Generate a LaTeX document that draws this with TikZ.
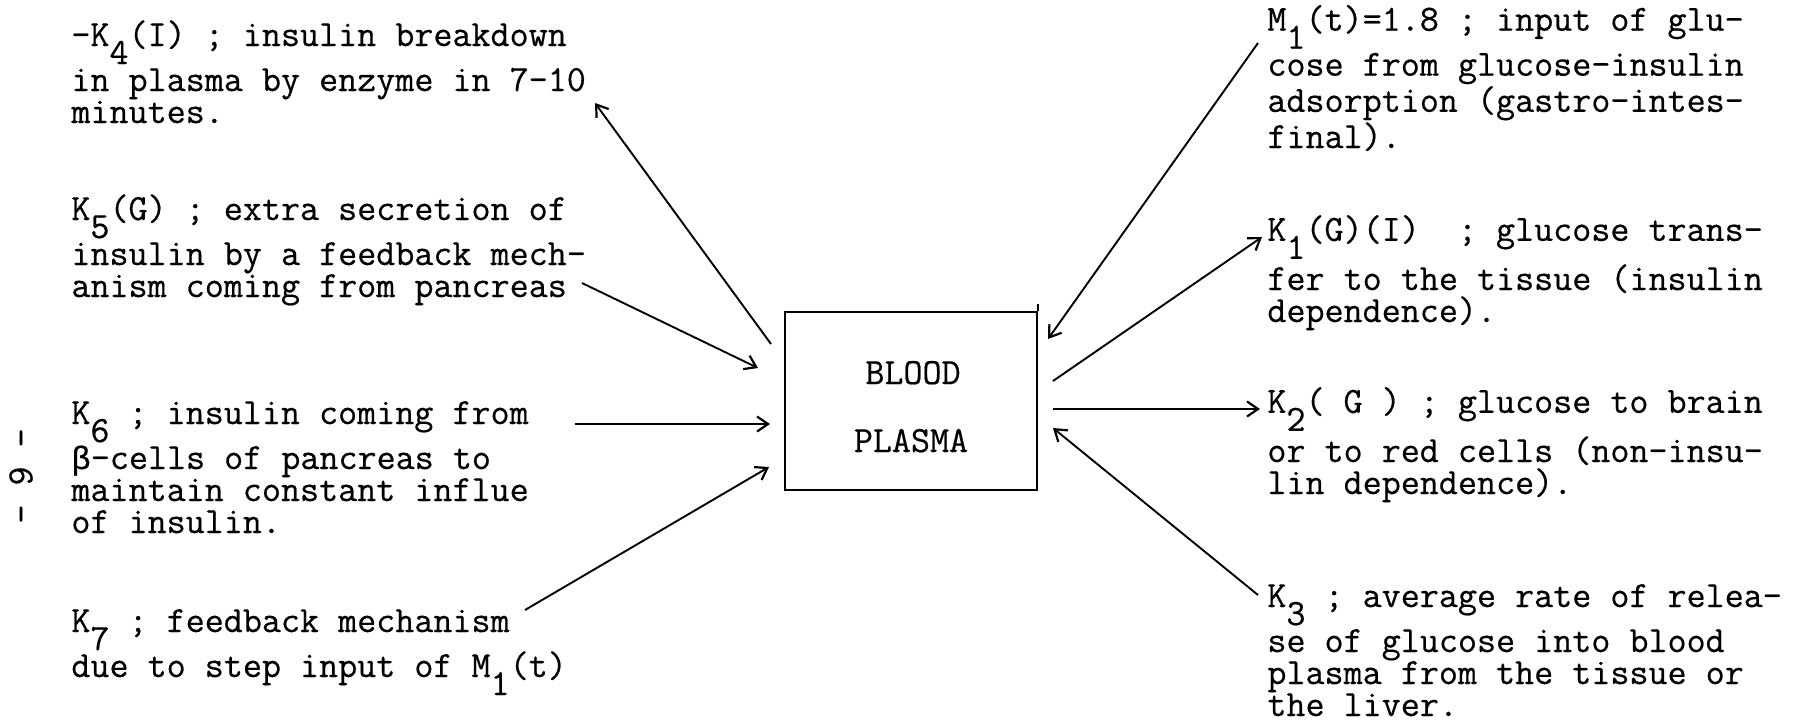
\documentclass[tikz,border=0pt]{standalone}
\usepackage{fontspec}
\setmonofont[FakeBold=0.5]{Latin Modern Mono}
\newfontfamily\grk[Scale=0.875,FakeBold=0.5]{Liberation Mono}
\usetikzlibrary{arrows.meta,calc}
\newcommand\dn[1]{\smash{\raisebox{-9pt}{#1}}}
\tikzset{
  txt/.style={anchor=base west, align=left, inner sep=0pt,
    font=\fontsize{18.5}{16}\selectfont\ttfamily},
  arr/.style={line width=0.95pt, -{Straight Barb[length=5.5pt,width=7.5pt,line width=1.1pt]}},
  boxstyle/.style={draw, line width=1pt, minimum width=126pt, minimum height=89pt, inner sep=0pt},
  boxtxt/.style={anchor=base, inner sep=0pt, font=\fontsize{18.5}{16}\selectfont\ttfamily},
}
\begin{document}
\begin{tikzpicture}[x=0.5pt,y=-0.5pt]
\useasboundingbox (0,0) rectangle (1795,724);

% central box
\node[boxstyle] (box) at (911,401) {};
\draw[line width=1pt] (box.north east) -- ++(0,-7);
\node[boxtxt] (blood) at (913,384) {BLOOD};
\node[boxtxt] (plasma) at (911,452) {PLASMA};

% left texts (anchored at the baseline of their last line)
\node[txt] (k4) at (71,123) {-K\dn{4}(I) ; insulin breakdown\\[6.5pt]in plasma by enzyme in 7-10\\minutes.};
\node[txt] (k5) at (71,297) {K\dn{5}(G) ; extra secretion of\\[6.5pt]insulin by a feedback mech-\\anism coming from pancreas};
\node[txt] (k6) at (71,533) {K\dn{6} ; insulin coming from\\[6.5pt]{\grk β}-cells of pancreas to\\maintain constant influe\\of insulin.};
\node[txt] (k7) at (71,677) {K\dn{7} ; feedback mechanism\\[6.5pt]due to step input of M\dn{1}(t)};

% right texts
\node[txt] (m1) at (1267,148) {M\dn{1}(t)=1.8 ; input of glu-\\[6.5pt]cose from glucose-insulin\\adsorption (gastro-intes-\\final).};
\node[txt] (k1) at (1267,322) {K\dn{1}(G)(I)~~; glucose trans-\\[6.5pt]fer to the tissue (insulin\\dependence).};
\node[txt] (k2) at (1267,494) {K\dn{2}( G ) ; glucose to brain\\[6.5pt]or to red cells (non-insu-\\lin dependence).};
\node[txt] (k3) at (1267,716) {K\dn{3} ; average rate of relea-\\[6.5pt]se of glucose into blood\\plasma from the tissue or\\the liver.};

% page number
\node[rotate=-90, inner sep=0pt, font=\fontsize{18.5}{16}\selectfont\ttfamily] (pg) at (21,476) {- 6 -};

% connector ends
\coordinate (k4a) at (595,103);
\coordinate (k5a) at (582,283);
\coordinate (k6a) at (575,424);
\coordinate (k7a) at (525,610);
\coordinate (m1a) at (1258,43);
\coordinate (k1a) at (1262,237);
\coordinate (k2a) at (1260,409);
\coordinate (k3a) at (1258,595);

\coordinate (b4) at ($(box.north west)+(-13,33)$);
\coordinate (b5) at ($(box.north west)+(-26,57)$);
\coordinate (b6) at ($(box.west)+(-14,23)$);
\coordinate (b7) at ($(box.south west)+(-15,-24)$);
\coordinate (bm1) at ($(box.north east)+(10,28)$);
\coordinate (b1) at ($(box.north east)+(15,70)$);
\coordinate (b2) at ($(box.east)+(15,8)$);
\coordinate (b3) at ($(box.east)+(15,27)$);

\draw[arr] (b4) -- (k4a);
\draw[arr] (k5a) -- (b5);
\draw[arr] (k6a) -- (b6);
\draw[arr] (k7a) -- (b7);
\draw[arr] (m1a) -- (bm1);
\draw[arr] (b1) -- (k1a);
\draw[arr] (b2) -- (k2a);
\draw[arr] (k3a) -- (b3);
\end{tikzpicture}
\end{document}
